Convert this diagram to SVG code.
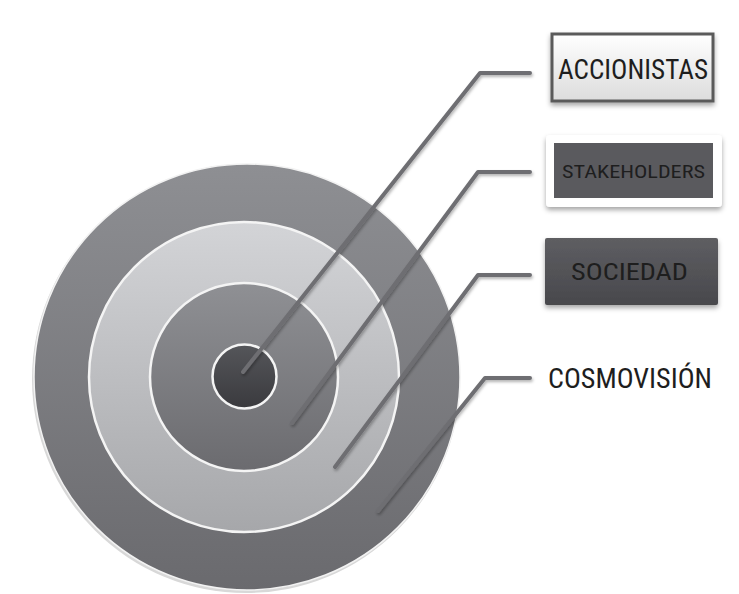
<svg xmlns="http://www.w3.org/2000/svg" width="739" height="594" viewBox="0 0 739 594">
<defs>
<linearGradient id="gOuter" x1="0" y1="0" x2="0" y2="1"><stop offset="0" stop-color="#8e8f93"/><stop offset="1" stop-color="#6a6a6e"/></linearGradient>
<linearGradient id="gLight" x1="0" y1="0" x2="0" y2="1"><stop offset="0" stop-color="#d3d4d7"/><stop offset="1" stop-color="#a6a7aa"/></linearGradient>
<linearGradient id="gMid" x1="0" y1="0" x2="0" y2="1"><stop offset="0" stop-color="#8f9094"/><stop offset="1" stop-color="#6b6b6f"/></linearGradient>
<linearGradient id="gCore" x1="0" y1="0" x2="0" y2="1"><stop offset="0" stop-color="#55565a"/><stop offset="1" stop-color="#3a3a3e"/></linearGradient>
<linearGradient id="gWhite" x1="0" y1="0" x2="0" y2="1"><stop offset="0" stop-color="#ffffff"/><stop offset="1" stop-color="#dcdcdc"/></linearGradient>
<linearGradient id="gDark" x1="0" y1="0" x2="0" y2="1"><stop offset="0" stop-color="#5e5e62"/><stop offset="1" stop-color="#48484c"/></linearGradient>
<filter id="sh" x="-20%" y="-20%" width="140%" height="160%"><feDropShadow dx="0" dy="3" stdDeviation="2.5" flood-color="#000" flood-opacity="0.35"/></filter>
<filter id="lsh" x="-20%" y="-20%" width="140%" height="140%"><feDropShadow dx="1" dy="2" stdDeviation="1.5" flood-color="#000" flood-opacity="0.3"/></filter>
</defs>
<style>
.ring{stroke:#f4f4f4;stroke-width:2.5}
.lbl{font-family:"Liberation Sans Narrow","Roboto Condensed","Liberation Sans",Arial,sans-serif;fill:#1e1e1e;text-anchor:start}
.con{fill:none;stroke:#6e6e72;stroke-width:4;stroke-linecap:round;stroke-linejoin:round}
</style>
<rect width="739" height="594" fill="#ffffff"/>
<g id="target">
<circle cx="246" cy="379" r="214" fill="#d8d8d8"/>
<circle cx="247" cy="377" r="213" fill="url(#gOuter)" stroke="#f2f2f2" stroke-width="1.5"/>
<circle cx="244" cy="377" r="155" fill="url(#gLight)" class="ring"/>
<circle cx="244" cy="377" r="94" fill="url(#gMid)" class="ring"/>
<circle cx="244.5" cy="376.5" r="32" fill="url(#gCore)" class="ring"/>
</g>
<g id="connectors" filter="url(#lsh)">
<polyline class="con" points="530,73 480,73 243,372"/>
<polyline class="con" points="530,172 478,172 292,423"/>
<polyline class="con" points="530,275 478,275 335,467"/>
<polyline class="con" points="530,378 485,378 378,511"/>
</g>
<g id="accionistas">
<rect x="552" y="34" width="161" height="67" fill="url(#gWhite)" stroke="#5a5a5a" stroke-width="3" filter="url(#sh)"/>
<text class="lbl" x="558" y="79" font-size="28" textLength="150" lengthAdjust="spacingAndGlyphs">ACCIONISTAS</text>
</g>
<g id="stakeholders">
<rect x="546" y="135" width="176" height="72" rx="4" fill="#ffffff" filter="url(#sh)"/>
<rect x="554" y="143" width="159" height="55" fill="#5a5a5e"/>
<text class="lbl" x="562" y="178" font-size="19" textLength="143" lengthAdjust="spacingAndGlyphs">STAKEHOLDERS</text>
</g>
<g id="sociedad">
<rect x="545" y="238" width="173" height="67" rx="2" fill="url(#gDark)" filter="url(#sh)"/>
<text class="lbl" x="571" y="280" font-size="24" textLength="117" lengthAdjust="spacingAndGlyphs">SOCIEDAD</text>
</g>
<g id="cosmovision">
<text class="lbl" x="548" y="388" font-size="27" fill="#2a2a2a" textLength="164" lengthAdjust="spacingAndGlyphs">COSMOVISIÓN</text>
</g>
</svg>
